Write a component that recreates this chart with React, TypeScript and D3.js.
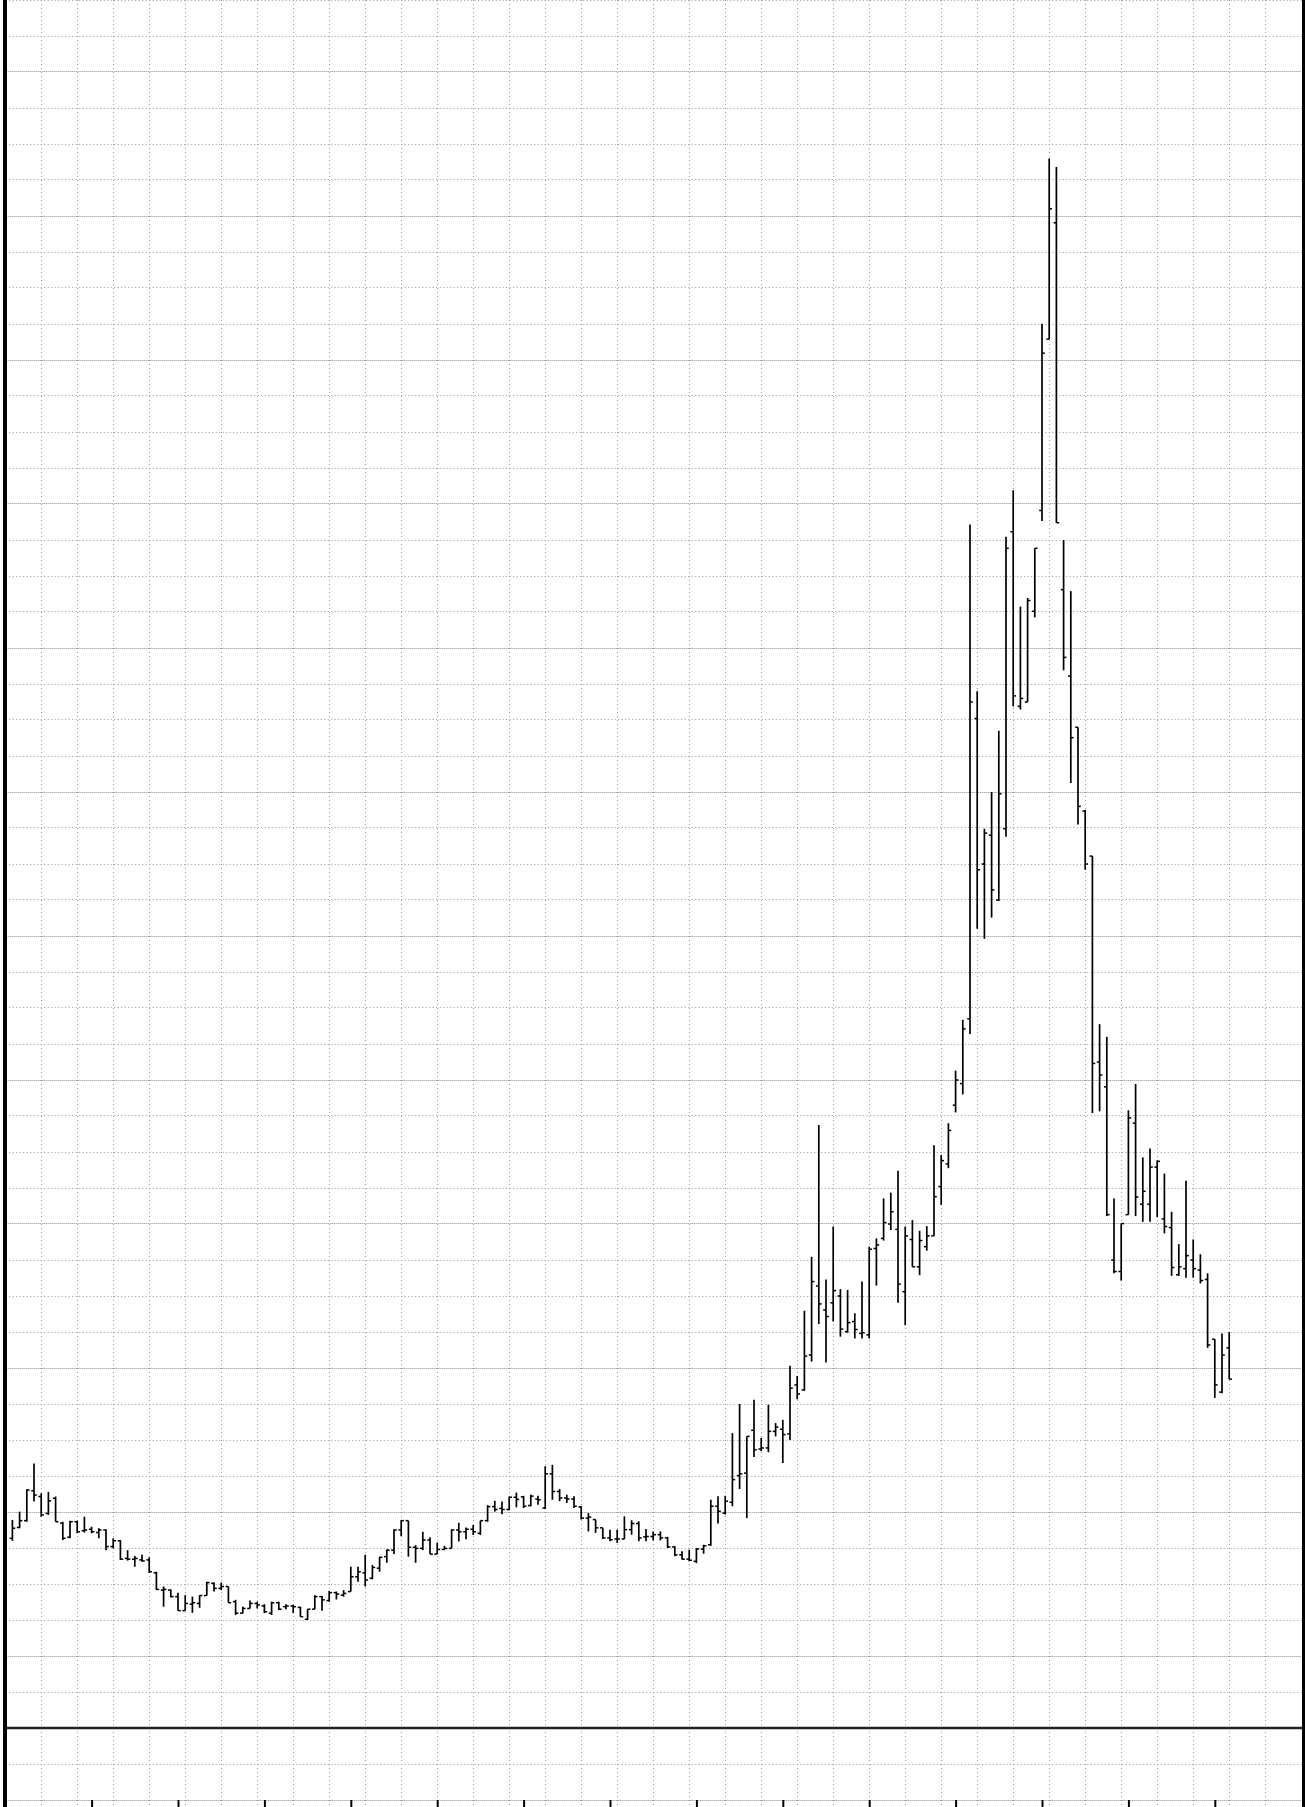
import React from "react";
import * as d3 from "d3";

// OHLC values (price units = one grid row), bar index 1..170
const opens = [
  5.27, 5.57, 5.76, 6.59, 6.43, 5.96, 6.38, 5.69, 5.30, 5.73,
  5.48, 5.52, 5.43, 5.50, 5.04, 5.20, 4.71, 4.69, 4.67, 4.67,
  4.31, 3.83, 3.83, 3.65, 3.26, 3.44, 3.46, 3.68, 4.02, 3.88,
  3.93, 3.51, 3.19, 3.32, 3.46, 3.39, 3.19, 3.48, 3.37, 3.39,
  3.35, 3.02, 3.30, 3.65, 3.54, 3.76, 3.69, 3.79, 4.20, 4.31,
  4.16, 4.44, 4.76, 4.94, 5.50, 5.76, 5.02, 4.99, 5.22, 4.83,
  4.96, 4.99, 5.50, 5.45, 5.52, 5.41, 5.76, 6.15, 6.10, 6.07,
  6.41, 6.42, 6.18, 6.36, 6.11, 7.06, 6.57, 6.39, 6.36, 6.14,
  5.83, 5.79, 5.56, 5.28, 5.25, 5.25, 5.51, 5.68, 5.31, 5.32,
  5.37, 5.28, 5.03, 4.81, 4.69, 4.63, 4.97, 5.09, 6.16, 5.97,
  6.27, 7.01, 7.08, 8.27, 7.75, 7.78, 8.24, 8.30, 8.17, 9.53,
  9.39, 10.36, 12.28, 11.61, 11.81, 12.00, 11.01, 11.29, 10.96, 10.92,
  13.32, 13.60, 14.00, 13.85, 12.12, 13.57, 12.81, 13.37, 13.67, 15.04,
  15.67, 17.30, 17.90, 19.70, 28.04, 24.00, 24.80, 23.00, 24.98, 33.23,
  28.38, 28.50, 31.02, 33.82, 38.58, 41.81, 31.62, 29.22, 27.80, 25.47,
  24.22, 18.50, 17.81, 13.00, 12.68, 14.26, 16.80, 14.55, 14.55, 15.58,
  14.14, 13.90, 12.59, 12.76, 13.00, 12.72, 12.46, 10.80, 9.33, 10.56,
];
const highs = [
  5.78, 6.01, 6.63, 7.35, 6.52, 6.56, 6.43, 5.73, 5.76, 5.76,
  5.87, 5.59, 5.55, 5.52, 5.27, 5.22, 4.94, 4.78, 4.81, 4.74,
  4.34, 3.93, 3.85, 3.76, 3.69, 3.65, 3.69, 4.06, 4.04, 4.04,
  3.93, 3.56, 3.37, 3.54, 3.51, 3.44, 3.51, 3.51, 3.44, 3.42,
  3.37, 3.30, 3.69, 3.67, 3.81, 3.79, 3.83, 4.48, 4.48, 4.81,
  4.53, 4.76, 4.96, 5.52, 5.78, 5.76, 5.08, 5.45, 5.30, 5.15,
  5.06, 5.52, 5.70, 5.57, 5.64, 5.76, 6.19, 6.31, 6.29, 6.43,
  6.54, 6.45, 6.48, 6.45, 7.27, 7.31, 6.64, 6.48, 6.44, 6.16,
  5.97, 5.79, 5.56, 5.51, 5.51, 5.88, 5.77, 5.74, 5.53, 5.46,
  5.46, 5.31, 5.05, 4.91, 4.95, 5.00, 5.09, 6.34, 6.44, 6.45,
  8.19, 9.00, 8.10, 9.12, 8.06, 8.98, 8.47, 8.56, 10.06, 9.78,
  11.59, 13.09, 16.75, 12.46, 13.93, 12.19, 12.17, 11.52, 12.40, 13.37,
  13.60, 14.71, 14.87, 15.48, 13.93, 14.11, 13.81, 13.94, 16.19, 15.92,
  16.80, 18.26, 19.67, 33.43, 28.80, 24.98, 26.00, 27.70, 33.09, 34.38,
  31.15, 31.39, 32.77, 39.01, 43.60, 43.36, 33.00, 31.58, 27.80, 25.50,
  24.22, 19.55, 19.20, 14.71, 14.01, 17.16, 17.89, 15.85, 16.10, 15.77,
  15.40, 14.34, 13.44, 15.20, 13.57, 13.16, 12.63, 10.80, 10.96, 11.00,
];
const lows = [
  5.20, 5.55, 5.73, 6.29, 5.87, 5.92, 5.73, 5.22, 5.27, 5.41,
  5.43, 5.41, 5.27, 4.94, 4.99, 4.67, 4.65, 4.48, 4.62, 4.31,
  3.83, 3.37, 3.63, 3.26, 3.26, 3.20, 3.34, 3.68, 3.79, 3.83,
  3.48, 3.14, 3.18, 3.32, 3.32, 3.19, 3.14, 3.28, 3.30, 3.19,
  3.09, 3.00, 3.30, 3.26, 3.51, 3.57, 3.65, 3.79, 4.06, 3.93,
  4.13, 4.34, 4.59, 4.83, 5.33, 4.76, 4.59, 4.94, 4.83, 4.83,
  4.94, 4.99, 5.18, 5.24, 5.36, 5.36, 5.73, 6.01, 5.94, 6.05,
  6.13, 6.11, 6.16, 6.20, 6.08, 6.34, 6.30, 6.25, 6.11, 5.79,
  5.46, 5.42, 5.25, 5.19, 5.14, 5.25, 5.37, 5.19, 5.19, 5.21,
  5.21, 5.00, 4.77, 4.68, 4.63, 4.58, 4.84, 5.06, 5.68, 5.93,
  6.16, 6.64, 5.83, 7.53, 7.69, 7.66, 8.10, 7.36, 8.00, 9.13,
  9.37, 10.18, 11.22, 10.15, 11.29, 10.87, 10.98, 10.82, 10.82, 10.82,
  12.29, 13.54, 13.83, 11.81, 11.19, 12.81, 12.58, 13.26, 13.67, 14.53,
  15.55, 17.10, 17.60, 19.28, 22.20, 21.92, 22.51, 22.97, 24.76, 28.38,
  28.29, 28.50, 30.85, 33.53, 38.58, 33.48, 29.38, 26.25, 25.10, 23.84,
  17.08, 17.13, 14.22, 12.63, 12.43, 14.26, 14.22, 14.06, 14.06, 14.19,
  13.74, 12.56, 12.56, 12.51, 12.51, 12.35, 10.56, 9.17, 9.30, 9.69,
];
const closes = [
  5.55, 5.76, 6.61, 6.47, 5.92, 6.31, 5.73, 5.27, 5.73, 5.45,
  5.50, 5.45, 5.50, 5.04, 5.20, 4.69, 4.69, 4.71, 4.64, 4.34,
  3.85, 3.85, 3.65, 3.26, 3.46, 3.48, 3.68, 4.04, 3.88, 3.93,
  3.48, 3.19, 3.32, 3.46, 3.42, 3.23, 3.48, 3.30, 3.39, 3.37,
  3.09, 3.30, 3.65, 3.56, 3.76, 3.72, 3.74, 4.20, 4.34, 4.11,
  4.46, 4.74, 4.94, 5.50, 5.76, 5.02, 4.99, 5.22, 4.83, 4.96,
  4.99, 5.50, 5.45, 5.52, 5.45, 5.76, 6.15, 6.07, 6.07, 6.41,
  6.35, 6.16, 6.44, 6.34, 7.06, 6.57, 6.39, 6.36, 6.16, 5.83,
  5.86, 5.56, 5.28, 5.23, 5.25, 5.51, 5.68, 5.28, 5.32, 5.37,
  5.28, 5.03, 4.81, 4.69, 4.66, 4.97, 5.06, 6.16, 6.02, 6.30,
  6.90, 7.06, 8.10, 7.73, 7.78, 8.24, 8.36, 8.15, 9.44, 9.28,
  10.33, 12.40, 11.78, 11.43, 12.15, 11.08, 11.26, 11.07, 10.98, 13.30,
  13.42, 14.04, 14.34, 12.33, 13.67, 12.81, 13.54, 13.67, 14.76, 15.76,
  16.60, 18.00, 19.42, 28.50, 23.84, 24.86, 23.28, 25.95, 32.77, 28.67,
  28.60, 31.32, 32.77, 38.19, 42.20, 33.48, 29.74, 27.51, 25.60, 24.00,
  18.46, 18.14, 14.26, 12.68, 14.01, 16.95, 14.75, 14.91, 15.58, 15.74,
  13.93, 12.79, 12.81, 13.12, 12.76, 12.43, 10.64, 9.53, 10.36, 9.69,
];
// bottom axis ticks every 12 bars
const axisTicks = [12, 24, 36, 48, 60, 72, 84, 96, 108, 120, 132, 144, 156, 168];

const W = 1307;
const H = 1807;
const plotLeft = 5.7;
const plotRight = 1301.7;
const mainBottom = 1728;
const slots = 180;
const rows = 48;

const crisp = (p: number) => Math.floor(p) + 0.5;

export default function App() {
  const x = d3.scaleLinear().domain([0, slots]).range([plotLeft, plotRight]);
  const y = d3.scaleLinear().domain([0, rows]).range([mainBottom, 0]);
  const rowPx = mainBottom / rows;

  const vLines = d3.range(1, slots / 5).map((k) => crisp(x(k * 5)));
  const hValues = d3.range(0, rows + 1);
  const subLines = [1, 2].map((k) => mainBottom + k * rowPx);

  const bars = opens.map((o, i) => ({
    i: i + 1,
    o,
    h: highs[i],
    l: lows[i],
    c: closes[i],
  }));

  return (
    <svg
      width={W}
      height={H}
      style={{ position: "absolute", left: 0, top: 0, background: "#fff" }}
    >
      <rect x={0} y={0} width={W} height={H} fill="#fff" />
      {/* vertical grid */}
      {vLines.map((vx, k) => (
        <line
          key={"v" + k}
          x1={vx}
          x2={vx}
          y1={0}
          y2={H}
          stroke="#9a9a9a"
          strokeWidth={1}
          strokeDasharray="1,3"
        />
      ))}
      {/* horizontal grid, main panel */}
      {hValues.map((v) => {
        const major = v % 4 === 2;
        const gy = crisp(y(v));
        return (
          <line
            key={"h" + v}
            x1={plotLeft}
            x2={plotRight}
            y1={gy}
            y2={gy}
            stroke={major ? "#8a8a8a" : "#9a9a9a"}
            strokeWidth={1}
            strokeDasharray={major ? "1,1" : "1,2.5"}
          />
        );
      })}
      {/* horizontal grid, lower panel */}
      {subLines.map((sy, k) => (
        <line
          key={"s" + k}
          x1={plotLeft}
          x2={plotRight}
          y1={crisp(sy)}
          y2={crisp(sy)}
          stroke={k === 1 ? "#8a8a8a" : "#9a9a9a"}
          strokeWidth={1}
          strokeDasharray={k === 1 ? "1,1" : "1,2.5"}
        />
      ))}
      {/* OHLC bars */}
      {bars.map((b) => {
        const cx = x(b.i) - 0.5;
        return (
          <g key={"b" + b.i} stroke="#000">
            <line x1={cx} x2={cx} y1={y(b.h)} y2={y(b.l)} strokeWidth={1.7} />
            <line x1={cx - 2.8} x2={cx} y1={y(b.o)} y2={y(b.o)} strokeWidth={1.5} />
            <line x1={cx} x2={cx + 2.8} y1={y(b.c)} y2={y(b.c)} strokeWidth={1.5} />
          </g>
        );
      })}
      {/* panel separator */}
      <line x1={4} x2={1304} y1={mainBottom} y2={mainBottom} stroke="#222" strokeWidth={2.5} />
      {/* borders */}
      <line x1={5} x2={5} y1={0} y2={H} stroke="#000" strokeWidth={4} />
      <line x1={1303.5} x2={1303.5} y1={0} y2={H} stroke="#000" strokeWidth={3} />
      {/* bottom axis ticks */}
      {axisTicks.map((t) => (
        <line
          key={"t" + t}
          x1={x(t)}
          x2={x(t)}
          y1={H - 7}
          y2={H}
          stroke="#000"
          strokeWidth={2}
        />
      ))}
    </svg>
  );
}
